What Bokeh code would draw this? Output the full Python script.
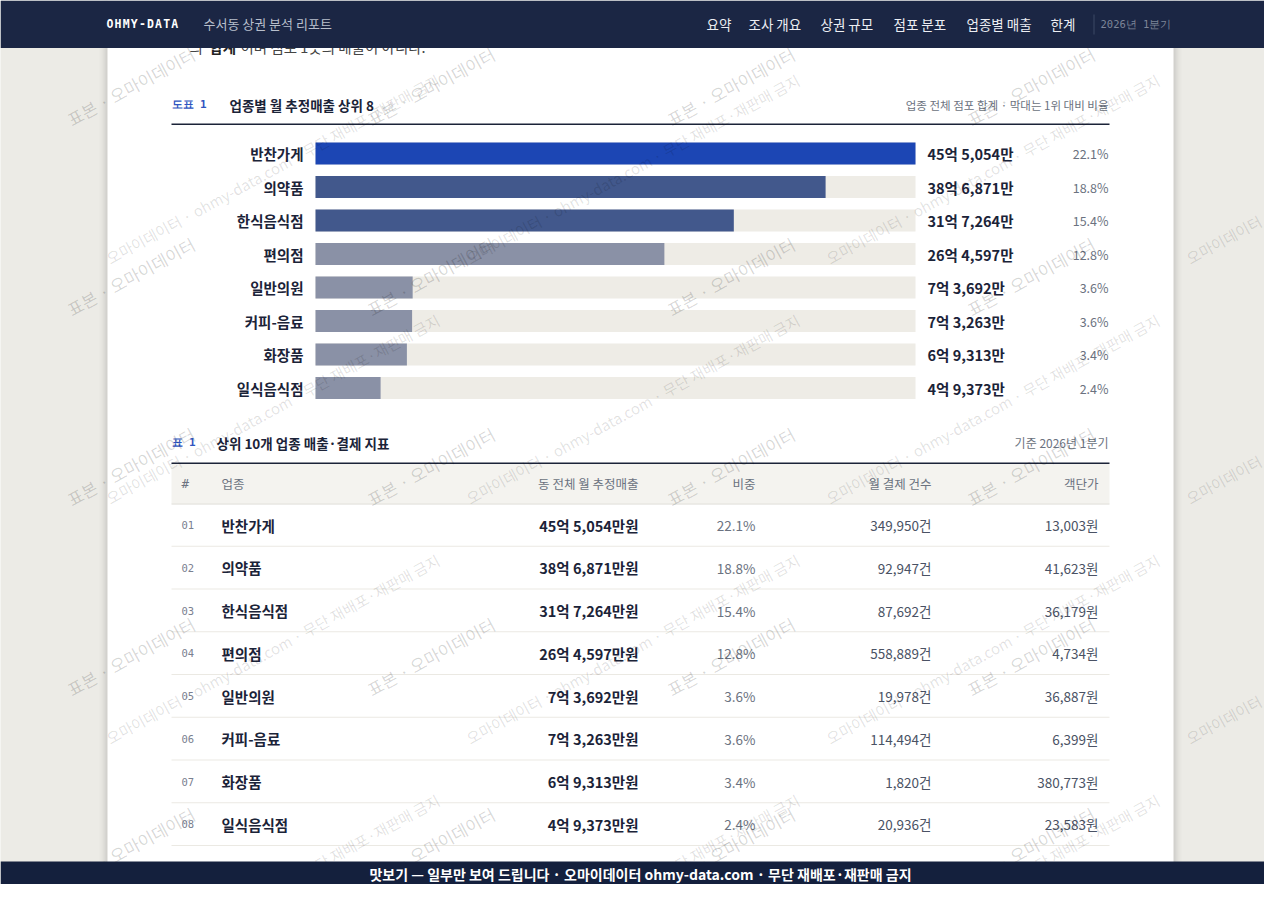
from bokeh.plotting import figure
from bokeh.models import ColumnDataSource, Range1d
from bokeh.core.properties import value
from bokeh.embed import file_html
from bokeh.resources import INLINE

# 업종별 데이터 (단위: 만원)
categories = ["반찬가게", "의약품", "한식음식점", "편의점", "일반의원", "커피-음료", "화장품", "일식음식점"]
sales_man = [455054, 386871, 317264, 264597, 73692, 73263, 69313, 49373]
share_pct = [22.1, 18.8, 15.4, 12.8, 3.6, 3.6, 3.4, 2.4]
pay_count = [349950, 92947, 87692, 558889, 19978, 114494, 1820, 20936]
unit_price = [13003, 41623, 36179, 4734, 36887, 6399, 380773, 23583]

nav_items = ["요약", "조사 개요", "상권 규모", "점포 분포", "업종별 매출", "한계"]
table_headers = ["#", "업종", "동 전체 월 추정매출", "비중", "월 결제 건수", "객단가"]

FONT = value("Noto Sans CJK KR")
MONO = value("DejaVu Sans Mono")
NAVY = "#1b2644"
INK = "#1b2338"
GRAY = "#6b7280"


def eok_man(v):
    return f"{v // 10000}억 {v % 10000:,}만"


p = figure(width=1264, height=884, x_range=Range1d(0, 1264), y_range=Range1d(884, 0),
           x_axis_type=None, y_axis_type=None, toolbar_location=None,
           output_backend="svg", min_border=0)
p.grid.visible = False
p.outline_line_color = None
p.background_fill_color = "#ecebe6"
p.border_fill_color = "#ecebe6"


def txt(x, y, s, size="13px", color=INK, style="normal", align="left", font=FONT, **kw):
    p.text(x=[x], y=[y], text=[s], text_font=font, text_font_size=value(size),
           text_font_style=style, text_color=color, text_align=align,
           text_baseline="middle", **kw)


def spaced(x, y, s, step, **kw):
    # monospace label with letter spacing, one glyph per position
    for i, ch in enumerate(s):
        if ch != " ":
            txt(x + i * step, y, ch, **kw)


# page panel + soft shadow
for i, a in enumerate([0.015, 0.02, 0.03, 0.04]):
    p.quad(left=[107 - 8 + i * 2], right=[1173 + 8 - i * 2], top=[0], bottom=[900],
           fill_color="#000000", fill_alpha=a, line_color=None)
p.quad(left=[107], right=[1173], top=[0], bottom=[900], fill_color="white", line_color=None)

# intro sentence partly hidden under the header
txt(189, 46, "의", size="14.5px", color="#444444")
txt(209, 46, "합계", size="14.5px", color="#222222", style="bold")
txt(240, 46, "이며 점포 1곳의 매출이 아니다.", size="14.5px", color="#444444")

# ---- 도표 1 : bar chart ----
txt(171, 104, "도표  1", size="11px", color="#2f55c0", style="bold", font=MONO)
txt(229, 104, "업종별 월 추정매출 상위 8", size="13.5px", style="bold")
txt(1108, 104, "업종 전체 점포 합계 · 막대는 1위 대비 비율", size="11.5px", color=GRAY, align="right")
p.quad(left=[171], right=[1109], top=[123], bottom=[124.5], fill_color=INK, line_color=None)

bar_left, bar_w, row0, row_h, bar_h = 315, 600, 153, 33.5, 22
top_val = max(sales_man)
ys = [row0 + i * row_h for i in range(len(categories))]
bar_colors = ["#1c46b4" if i == 0 else "#42588c" if i < 3 else "#8a91a6" for i in range(len(categories))]
bars = ColumnDataSource(dict(
    cat=categories, y=ys,
    top=[y - bar_h / 2 for y in ys], bottom=[y + bar_h / 2 for y in ys],
    left=[bar_left] * len(ys),
    right=[bar_left + bar_w * v / top_val for v in sales_man],
    track=[bar_left + bar_w] * len(ys),
    color=bar_colors,
    label=[eok_man(v) for v in sales_man],
    pct=[f"{s:.1f}%" for s in share_pct],
))
p.quad(left="left", right="track", top="top", bottom="bottom", source=bars,
       fill_color="#eeece6", line_color=None)
p.quad(left="left", right="right", top="top", bottom="bottom", source=bars,
       fill_color="color", line_color=None)
p.text(x=303, y="y", text="cat", source=bars, text_font=FONT, text_font_size=value("14.5px"),
       text_font_style="bold", text_color=INK, text_align="right", text_baseline="middle")
p.text(x=927, y="y", text="label", source=bars, text_font=FONT, text_font_size=value("14.5px"),
       text_font_style="bold", text_color=INK, text_align="left", text_baseline="middle")
p.text(x=1108, y="y", text="pct", source=bars, text_font=FONT, text_font_size=value("12.5px"),
       text_color=GRAY, text_align="right", text_baseline="middle")

# ---- 표 1 : table ----
txt(171, 442, "표  1", size="11px", color="#2f55c0", style="bold", font=MONO)
txt(216, 442, "상위 10개 업종 매출·결제 지표", size="13.5px", style="bold")
txt(1108, 442, "기준 2026년 1분기", size="12px", color=GRAY, align="right")
p.quad(left=[171], right=[1109], top=[462], bottom=[463.5], fill_color=INK, line_color=None)
p.quad(left=[171], right=[1109], top=[463.5], bottom=[503], fill_color="#f4f3ef", line_color=None)
p.segment(x0=[171], x1=[1109], y0=[503.5], y1=[503.5], line_color="#dcdad3", line_width=1)

col_x = [181, 221, 638, 755, 931, 1098]
col_align = ["left", "left", "right", "right", "right", "right"]
for h, cx, al in zip(table_headers, col_x, col_align):
    txt(cx, 483, h, size="12.5px", color=GRAY, align=al, font=MONO if h == "#" else FONT)

trow_h = 42.75
tys = [524.5 + i * trow_h for i in range(len(categories))]
tbl = ColumnDataSource(dict(
    y=tys, sep=[503 + (i + 1) * trow_h for i in range(len(categories))],
    no=[f"{i + 1:02d}" for i in range(len(categories))],
    cat=categories,
    sales=[eok_man(v) + "원" for v in sales_man],
    pct=[f"{s:.1f}%" for s in share_pct],
    cnt=[f"{c:,}건" for c in pay_count],
    price=[f"{u:,}원" for u in unit_price],
))
p.segment(x0=171, x1=1109, y0="sep", y1="sep", source=tbl, line_color="#ebe9e3", line_width=1)
p.text(x=col_x[0], y="y", text="no", source=tbl, text_font=MONO, text_font_size=value("10.5px"),
       text_color="#7a8090", text_baseline="middle")
p.text(x=col_x[1], y="y", text="cat", source=tbl, text_font=FONT, text_font_size=value("14.5px"),
       text_font_style="bold", text_color=INK, text_baseline="middle")
p.text(x=col_x[2], y="y", text="sales", source=tbl, text_font=FONT, text_font_size=value("14.5px"),
       text_font_style="bold", text_color=INK, text_align="right", text_baseline="middle")
p.text(x=col_x[3], y="y", text="pct", source=tbl, text_font=FONT, text_font_size=value("13.5px"),
       text_color=GRAY, text_align="right", text_baseline="middle")
p.text(x=col_x[4], y="y", text="cnt", source=tbl, text_font=FONT, text_font_size=value("13.5px"),
       text_color="#4a5264", text_align="right", text_baseline="middle")
p.text(x=col_x[5], y="y", text="price", source=tbl, text_font=FONT, text_font_size=value("13.5px"),
       text_color="#4a5264", text_align="right", text_baseline="middle")

# ---- watermarks ----
wa_x, wa_y = [], []
for i in range(0, 5):
    for j in range(0, 5):
        wa_x.append(74 + 300 * i)
        wa_y.append(131 + 190 * j)
p.text(x=wa_x, y=wa_y, text=["표본 · 오마이데이터"] * len(wa_x), angle=0.5,
       text_font=FONT, text_font_size=value("17px"), text_color="#000000", text_alpha=0.16,
       text_align="left", text_baseline="bottom")
wb_x, wb_y = [], []
for i in range(0, 4):
    for j in range(0, 4):
        wb_x.append(112 + 360 * i)
        wb_y.append(268 + 240 * j)
p.text(x=wb_x, y=wb_y, text=["오마이데이터 · ohmy-data.com · 무단 재배포·재판매 금지"] * len(wb_x), angle=0.5,
       text_font=FONT, text_font_size=value("15px"), text_color="#000000", text_alpha=0.12,
       text_align="left", text_baseline="bottom")

# ---- header bar ----
p.quad(left=[0], right=[1280], top=[0], bottom=[47.5], fill_color=NAVY, line_color=None)
spaced(106, 23, "OHMY-DATA", 8.1, size="11.5px", color="white", style="bold", font=MONO)
txt(203, 23, "수서동 상권 분석 리포트", size="13px", color="#b8bfcc")
nav_x = [706, 748, 820, 893, 966, 1050]
p.text(x=nav_x, y=[23] * len(nav_x), text=nav_items, text_font=FONT, text_font_size=value("13.5px"),
       text_color="#eceef3", text_align="left", text_baseline="middle")
p.segment(x0=[1093.5], x1=[1093.5], y0=[14], y1=[34], line_color="#3d4865", line_width=1)
txt(1100, 23, "2026년 1분기", size="10.5px", color="#7d8598", font=MONO)

# ---- footer bar ----
p.quad(left=[0], right=[1280], top=[861], bottom=[900], fill_color="#14203d", line_color=None)
txt(640, 873, "맛보기 — 일부만 보여 드립니다 · 오마이데이터 ohmy-data.com · 무단 재배포·재판매 금지",
    size="14px", color="white", style="bold", align="center")

open("out.html", "w").write(file_html(p, INLINE))
